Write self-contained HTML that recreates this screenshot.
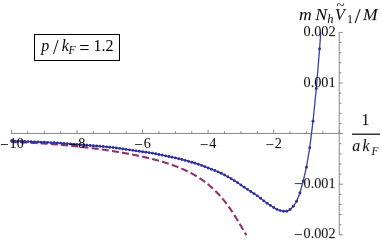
<!DOCTYPE html>
<html><head><meta charset="utf-8"><title>plot</title>
<style>
html,body{margin:0;padding:0;background:#fff;}
body{width:382px;height:242px;overflow:hidden;position:relative;font-family:"Liberation Serif",serif;}
svg{position:absolute;left:0;top:0;}
text{font-family:"Liberation Serif",serif;fill:#000;}
.t{font-size:14.5px;}
.i{font-style:italic;}
</style></head><body>
<svg width="382" height="242" viewBox="0 0 382 242">
<rect width="382" height="242" fill="#fff"/>
<g stroke="#727272" stroke-width="0.85" fill="none">
<path d="M11.1,133.45H339.25"/>
<path d="M339.25,32.1V235.2"/>
<path d="M11.45,133.45v-3.6M27.84,133.45v-2.2M44.23,133.45v-2.2M60.62,133.45v-2.2M77.01,133.45v-3.6M93.40,133.45v-2.2M109.79,133.45v-2.2M126.18,133.45v-2.2M142.57,133.45v-3.6M158.96,133.45v-2.2M175.35,133.45v-2.2M191.74,133.45v-2.2M208.13,133.45v-3.6M224.52,133.45v-2.2M240.91,133.45v-2.2M257.30,133.45v-2.2M273.69,133.45v-3.6M290.08,133.45v-2.2M306.47,133.45v-2.2M322.86,133.45v-2.2M339.25,133.45v-3.6M339.25,234.82h3.6M339.25,224.70h2.2M339.25,214.58h2.2M339.25,204.46h2.2M339.25,194.34h2.2M339.25,184.22h3.6M339.25,174.10h2.2M339.25,163.98h2.2M339.25,153.86h2.2M339.25,143.74h2.2M339.25,133.62h3.6M339.25,123.50h2.2M339.25,113.38h2.2M339.25,103.26h2.2M339.25,93.14h2.2M339.25,83.02h3.6M339.25,72.90h2.2M339.25,62.78h2.2M339.25,52.66h2.2M339.25,42.54h2.2M339.25,32.42h3.6"/>
</g>
<path d="M11.40,142.01 L11.65,142.02 L11.90,142.03 L12.15,142.03 L12.40,142.04 L12.65,142.05 L12.90,142.06 L13.15,142.06 L13.40,142.07 L13.65,142.08 L13.90,142.09 L14.15,142.09 L14.40,142.10 L14.65,142.11 L14.90,142.12 L15.15,142.13 L15.40,142.13 L15.65,142.14 L15.90,142.15 L16.15,142.16 L16.40,142.17 L16.65,142.18 L16.90,142.19 L17.15,142.19 L17.40,142.20 L17.65,142.21 L17.90,142.22 L18.15,142.23 L18.40,142.24 L18.65,142.25 L18.90,142.26 L19.15,142.27 L19.40,142.28 L19.65,142.29 L19.90,142.29 L20.15,142.30 L20.40,142.31 L20.65,142.32 L20.90,142.33 L21.15,142.34 L21.40,142.35 L21.65,142.36 L21.90,142.37 L22.15,142.38 L22.40,142.39 L22.65,142.41 L22.90,142.42 L23.15,142.43 L23.40,142.44 L23.65,142.45 L23.90,142.46 L24.15,142.47 L24.40,142.48 L24.65,142.49 L24.90,142.50 L25.15,142.51 L25.40,142.52 L25.65,142.54 L25.90,142.55 L26.15,142.56 L26.40,142.57 L26.65,142.58 L26.90,142.59 L27.15,142.60 L27.40,142.62 L27.65,142.63 L27.90,142.64 L28.15,142.65 L28.40,142.66 L28.65,142.68 L28.90,142.69 L29.15,142.70 L29.40,142.71 L29.65,142.73 L29.90,142.74 L30.15,142.75 L30.40,142.76 L30.65,142.78 L30.90,142.79 L31.15,142.80 L31.40,142.81 L31.65,142.83 L31.90,142.84 L32.15,142.85 L32.40,142.87 L32.65,142.88 L32.90,142.89 L33.15,142.91 L33.40,142.92 L33.65,142.93 L33.90,142.95 L34.15,142.96 L34.40,142.98 L34.65,142.99 L34.90,143.00 L35.15,143.02 L35.40,143.03 L35.65,143.05 L35.90,143.06 L36.15,143.07 L36.40,143.09 L36.65,143.10 L36.90,143.12 L37.15,143.13 L37.40,143.15 L37.65,143.16 L37.90,143.18 L38.15,143.19 L38.40,143.21 L38.65,143.22 L38.90,143.24 L39.15,143.25 L39.40,143.27 L39.65,143.28 L39.90,143.30 L40.15,143.31 L40.40,143.33 L40.65,143.34 L40.90,143.36 L41.15,143.37 L41.40,143.39 L41.65,143.41 L41.90,143.42 L42.15,143.44 L42.40,143.45 L42.65,143.47 L42.90,143.49 L43.15,143.50 L43.40,143.52 L43.65,143.54 L43.90,143.55 L44.15,143.57 L44.40,143.59 L44.65,143.60 L44.90,143.62 L45.15,143.64 L45.40,143.65 L45.65,143.67 L45.90,143.69 L46.15,143.70 L46.40,143.72 L46.65,143.74 L46.90,143.76 L47.15,143.77 L47.40,143.79 L47.65,143.81 L47.90,143.83 L48.15,143.84 L48.40,143.86 L48.65,143.88 L48.90,143.90 L49.15,143.92 L49.40,143.93 L49.65,143.95 L49.90,143.97 L50.15,143.99 L50.40,144.01 L50.65,144.03 L50.90,144.05 L51.15,144.06 L51.40,144.08 L51.65,144.10 L51.90,144.12 L52.15,144.14 L52.40,144.16 L52.65,144.18 L52.90,144.20 L53.15,144.22 L53.40,144.24 L53.65,144.25 L53.90,144.27 L54.15,144.29 L54.40,144.31 L54.65,144.33 L54.90,144.35 L55.15,144.37 L55.40,144.39 L55.65,144.41 L55.90,144.43 L56.15,144.45 L56.40,144.47 L56.65,144.49 L56.90,144.51 L57.15,144.53 L57.40,144.55 L57.65,144.57 L57.90,144.60 L58.15,144.62 L58.40,144.64 L58.65,144.66 L58.90,144.68 L59.15,144.70 L59.40,144.72 L59.65,144.74 L59.90,144.76 L60.15,144.78 L60.40,144.81 L60.65,144.83 L60.90,144.85 L61.15,144.87 L61.40,144.89 L61.65,144.91 L61.90,144.94 L62.15,144.96 L62.40,144.98 L62.65,145.00 L62.90,145.02 L63.15,145.05 L63.40,145.07 L63.65,145.09 L63.90,145.11 L64.15,145.14 L64.40,145.16 L64.65,145.18 L64.90,145.20 L65.15,145.23 L65.40,145.25 L65.65,145.27 L65.90,145.30 L66.15,145.32 L66.40,145.34 L66.65,145.37 L66.90,145.39 L67.15,145.41 L67.40,145.44 L67.65,145.46 L67.90,145.48 L68.15,145.51 L68.40,145.53 L68.65,145.56 L68.90,145.58 L69.15,145.60 L69.40,145.63 L69.65,145.65 L69.90,145.68 L70.15,145.70 L70.40,145.73 L70.65,145.75 L70.90,145.78 L71.15,145.80 L71.40,145.82 L71.65,145.85 L71.90,145.87 L72.15,145.90 L72.40,145.92 L72.65,145.95 L72.90,145.98 L73.15,146.00 L73.40,146.03 L73.65,146.05 L73.90,146.08 L74.15,146.10 L74.40,146.13 L74.65,146.15 L74.90,146.18 L75.15,146.21 L75.40,146.23 L75.65,146.26 L75.90,146.29 L76.15,146.31 L76.40,146.34 L76.65,146.36 L76.90,146.39 L77.15,146.42 L77.40,146.44 L77.65,146.47 L77.90,146.50 L78.15,146.53 L78.40,146.55 L78.65,146.58 L78.90,146.61 L79.15,146.63 L79.40,146.66 L79.65,146.69 L79.90,146.72 L80.15,146.74 L80.40,146.77 L80.65,146.80 L80.90,146.83 L81.15,146.86 L81.40,146.88 L81.65,146.91 L81.90,146.94 L82.15,146.97 L82.40,147.00 L82.65,147.03 L82.90,147.05 L83.15,147.08 L83.40,147.11 L83.65,147.14 L83.90,147.17 L84.15,147.20 L84.40,147.23 L84.65,147.26 L84.90,147.29 L85.15,147.31 L85.40,147.34 L85.65,147.37 L85.90,147.40 L86.15,147.43 L86.40,147.46 L86.65,147.49 L86.90,147.52 L87.15,147.55 L87.40,147.58 L87.65,147.61 L87.90,147.64 L88.15,147.67 L88.40,147.70 L88.65,147.73 L88.90,147.76 L89.15,147.80 L89.40,147.83 L89.65,147.86 L89.90,147.89 L90.15,147.92 L90.40,147.95 L90.65,147.98 L90.90,148.01 L91.15,148.04 L91.40,148.08 L91.65,148.11 L91.90,148.14 L92.15,148.17 L92.40,148.20 L92.65,148.23 L92.90,148.27 L93.15,148.30 L93.40,148.33 L93.65,148.36 L93.90,148.40 L94.15,148.43 L94.40,148.46 L94.65,148.49 L94.90,148.53 L95.15,148.56 L95.40,148.59 L95.65,148.62 L95.90,148.66 L96.15,148.69 L96.40,148.72 L96.65,148.76 L96.90,148.79 L97.15,148.82 L97.40,148.86 L97.65,148.89 L97.90,148.92 L98.15,148.96 L98.40,148.99 L98.65,149.03 L98.90,149.06 L99.15,149.10 L99.40,149.13 L99.65,149.16 L99.90,149.20 L100.15,149.23 L100.40,149.27 L100.65,149.30 L100.90,149.34 L101.15,149.37 L101.40,149.41 L101.65,149.44 L101.90,149.48 L102.15,149.51 L102.40,149.55 L102.65,149.58 L102.90,149.62 L103.15,149.66 L103.40,149.69 L103.65,149.73 L103.90,149.76 L104.15,149.80 L104.40,149.84 L104.65,149.87 L104.90,149.91 L105.15,149.95 L105.40,149.98 L105.65,150.02 L105.90,150.06 L106.15,150.09 L106.40,150.13 L106.65,150.17 L106.90,150.20 L107.15,150.24 L107.40,150.28 L107.65,150.32 L107.90,150.35 L108.15,150.39 L108.40,150.43 L108.65,150.47 L108.90,150.50 L109.15,150.54 L109.40,150.58 L109.65,150.62 L109.90,150.66 L110.15,150.70 L110.40,150.73 L110.65,150.77 L110.90,150.81 L111.15,150.85 L111.40,150.89 L111.65,150.93 L111.90,150.97 L112.15,151.01 L112.40,151.05 L112.65,151.09 L112.90,151.13 L113.15,151.17 L113.40,151.21 L113.65,151.25 L113.90,151.29 L114.15,151.33 L114.40,151.37 L114.65,151.41 L114.90,151.45 L115.15,151.49 L115.40,151.53 L115.65,151.57 L115.90,151.61 L116.15,151.65 L116.40,151.69 L116.65,151.73 L116.90,151.77 L117.15,151.82 L117.40,151.86 L117.65,151.90 L117.90,151.94 L118.15,151.98 L118.40,152.02 L118.65,152.07 L118.90,152.11 L119.15,152.15 L119.40,152.19 L119.65,152.24 L119.90,152.28 L120.15,152.32 L120.40,152.36 L120.65,152.41 L120.90,152.45 L121.15,152.49 L121.40,152.54 L121.65,152.58 L121.90,152.62 L122.15,152.67 L122.40,152.71 L122.65,152.76 L122.90,152.80 L123.15,152.84 L123.40,152.89 L123.65,152.93 L123.90,152.98 L124.15,153.02 L124.40,153.07 L124.65,153.11 L124.90,153.16 L125.15,153.20 L125.40,153.25 L125.65,153.29 L125.90,153.34 L126.15,153.38 L126.40,153.43 L126.65,153.48 L126.90,153.52 L127.15,153.57 L127.40,153.61 L127.65,153.66 L127.90,153.71 L128.15,153.75 L128.40,153.80 L128.65,153.85 L128.90,153.90 L129.15,153.94 L129.40,153.99 L129.65,154.04 L129.90,154.08 L130.15,154.13 L130.40,154.18 L130.65,154.23 L130.90,154.28 L131.15,154.33 L131.40,154.37 L131.65,154.42 L131.90,154.47 L132.15,154.52 L132.40,154.57 L132.65,154.62 L132.90,154.67 L133.15,154.72 L133.40,154.77 L133.65,154.82 L133.90,154.87 L134.15,154.92 L134.40,154.97 L134.65,155.02 L134.90,155.07 L135.15,155.12 L135.40,155.17 L135.65,155.22 L135.90,155.27 L136.15,155.32 L136.40,155.37 L136.65,155.43 L136.90,155.48 L137.15,155.53 L137.40,155.58 L137.65,155.63 L137.90,155.69 L138.15,155.74 L138.40,155.79 L138.65,155.84 L138.90,155.90 L139.15,155.95 L139.40,156.00 L139.65,156.06 L139.90,156.11 L140.15,156.16 L140.40,156.22 L140.65,156.27 L140.90,156.33 L141.15,156.38 L141.40,156.44 L141.65,156.49 L141.90,156.55 L142.15,156.60 L142.40,156.66 L142.65,156.71 L142.90,156.77 L143.15,156.82 L143.40,156.88 L143.65,156.94 L143.90,156.99 L144.15,157.05 L144.40,157.11 L144.65,157.16 L144.90,157.22 L145.15,157.28 L145.40,157.33 L145.65,157.39 L145.90,157.45 L146.15,157.51 L146.40,157.57 L146.65,157.63 L146.90,157.68 L147.15,157.74 L147.40,157.80 L147.65,157.86 L147.90,157.92 L148.15,157.98 L148.40,158.04 L148.65,158.10 L148.90,158.16 L149.15,158.22 L149.40,158.28 L149.65,158.34 L149.90,158.41 L150.15,158.47 L150.40,158.53 L150.65,158.59 L150.90,158.65 L151.15,158.72 L151.40,158.78 L151.65,158.84 L151.90,158.90 L152.15,158.97 L152.40,159.03 L152.65,159.09 L152.90,159.16 L153.15,159.22 L153.40,159.29 L153.65,159.35 L153.90,159.42 L154.15,159.48 L154.40,159.55 L154.65,159.61 L154.90,159.68 L155.15,159.74 L155.40,159.81 L155.65,159.88 L155.90,159.94 L156.15,160.01 L156.40,160.08 L156.65,160.15 L156.90,160.21 L157.15,160.28 L157.40,160.35 L157.65,160.42 L157.90,160.49 L158.15,160.56 L158.40,160.63 L158.65,160.70 L158.90,160.77 L159.15,160.84 L159.40,160.91 L159.65,160.98 L159.90,161.05 L160.15,161.12 L160.40,161.19 L160.65,161.27 L160.90,161.34 L161.15,161.41 L161.40,161.48 L161.65,161.56 L161.90,161.63 L162.15,161.70 L162.40,161.78 L162.65,161.85 L162.90,161.93 L163.15,162.00 L163.40,162.08 L163.65,162.15 L163.90,162.23 L164.15,162.31 L164.40,162.38 L164.65,162.46 L164.90,162.54 L165.15,162.62 L165.40,162.69 L165.65,162.77 L165.90,162.85 L166.15,162.93 L166.40,163.01 L166.65,163.09 L166.90,163.17 L167.15,163.25 L167.40,163.33 L167.65,163.41 L167.90,163.49 L168.15,163.58 L168.40,163.66 L168.65,163.74 L168.90,163.82 L169.15,163.91 L169.40,163.99 L169.65,164.07 L169.90,164.16 L170.15,164.24 L170.40,164.33 L170.65,164.42 L170.90,164.50 L171.15,164.59 L171.40,164.68 L171.65,164.76 L171.90,164.85 L172.15,164.94 L172.40,165.03 L172.65,165.12 L172.90,165.21 L173.15,165.30 L173.40,165.39 L173.65,165.48 L173.90,165.57 L174.15,165.66 L174.40,165.75 L174.65,165.84 L174.90,165.94 L175.15,166.03 L175.40,166.12 L175.65,166.22 L175.90,166.31 L176.15,166.41 L176.40,166.50 L176.65,166.60 L176.90,166.70 L177.15,166.80 L177.40,166.89 L177.65,166.99 L177.90,167.09 L178.15,167.19 L178.40,167.29 L178.65,167.39 L178.90,167.49 L179.15,167.59 L179.40,167.69 L179.65,167.80 L179.90,167.90 L180.15,168.00 L180.40,168.11 L180.65,168.21 L180.90,168.32 L181.15,168.42 L181.40,168.53 L181.65,168.63 L181.90,168.74 L182.15,168.85 L182.40,168.96 L182.65,169.07 L182.90,169.18 L183.15,169.29 L183.40,169.40 L183.65,169.51 L183.90,169.62 L184.15,169.73 L184.40,169.85 L184.65,169.96 L184.90,170.08 L185.15,170.19 L185.40,170.31 L185.65,170.42 L185.90,170.54 L186.15,170.66 L186.40,170.78 L186.65,170.90 L186.90,171.02 L187.15,171.14 L187.40,171.26 L187.65,171.38 L187.90,171.50 L188.15,171.63 L188.40,171.75 L188.65,171.87 L188.90,172.00 L189.15,172.13 L189.40,172.25 L189.65,172.38 L189.90,172.51 L190.15,172.64 L190.40,172.77 L190.65,172.90 L190.90,173.03 L191.15,173.16 L191.40,173.29 L191.65,173.43 L191.90,173.56 L192.15,173.70 L192.40,173.83 L192.65,173.97 L192.90,174.11 L193.15,174.25 L193.40,174.39 L193.65,174.53 L193.90,174.67 L194.15,174.81 L194.40,174.95 L194.65,175.10 L194.90,175.24 L195.15,175.39 L195.40,175.53 L195.65,175.68 L195.90,175.83 L196.15,175.98 L196.40,176.13 L196.65,176.28 L196.90,176.43 L197.15,176.58 L197.40,176.74 L197.65,176.89 L197.90,177.05 L198.15,177.21 L198.40,177.36 L198.65,177.52 L198.90,177.68 L199.15,177.84 L199.40,178.00 L199.65,178.17 L199.90,178.33 L200.15,178.50 L200.40,178.66 L200.65,178.83 L200.90,179.00 L201.15,179.17 L201.40,179.34 L201.65,179.51 L201.90,179.68 L202.15,179.85 L202.40,180.03 L202.65,180.20 L202.90,180.38 L203.15,180.56 L203.40,180.74 L203.65,180.92 L203.90,181.10 L204.15,181.28 L204.40,181.47 L204.65,181.65 L204.90,181.84 L205.15,182.03 L205.40,182.22 L205.65,182.41 L205.90,182.60 L206.15,182.79 L206.40,182.98 L206.65,183.18 L206.90,183.38 L207.15,183.57 L207.40,183.77 L207.65,183.97 L207.90,184.18 L208.15,184.38 L208.40,184.58 L208.65,184.79 L208.90,185.00 L209.15,185.21 L209.40,185.42 L209.65,185.63 L209.90,185.84 L210.15,186.06 L210.40,186.27 L210.65,186.49 L210.90,186.71 L211.15,186.93 L211.40,187.15 L211.65,187.37 L211.90,187.60 L212.15,187.82 L212.40,188.05 L212.65,188.28 L212.90,188.51 L213.15,188.75 L213.40,188.98 L213.65,189.22 L213.90,189.45 L214.15,189.69 L214.40,189.93 L214.65,190.17 L214.90,190.42 L215.15,190.66 L215.40,190.91 L215.65,191.16 L215.90,191.41 L216.15,191.66 L216.40,191.92 L216.65,192.17 L216.90,192.43 L217.15,192.69 L217.40,192.95 L217.65,193.21 L217.90,193.48 L218.15,193.74 L218.40,194.01 L218.65,194.28 L218.90,194.55 L219.15,194.82 L219.40,195.10 L219.65,195.38 L219.90,195.66 L220.15,195.94 L220.40,196.22 L220.65,196.50 L220.90,196.79 L221.15,197.08 L221.40,197.37 L221.65,197.66 L221.90,197.95 L222.15,198.25 L222.40,198.55 L222.65,198.85 L222.90,199.15 L223.15,199.45 L223.40,199.76 L223.65,200.07 L223.90,200.38 L224.15,200.69 L224.40,201.00 L224.65,201.32 L224.90,201.63 L225.15,201.95 L225.40,202.27 L225.65,202.60 L225.90,202.92 L226.15,203.25 L226.40,203.58 L226.65,203.91 L226.90,204.25 L227.15,204.58 L227.40,204.92 L227.65,205.26 L227.90,205.60 L228.15,205.94 L228.40,206.29 L228.65,206.64 L228.90,206.99 L229.15,207.34 L229.40,207.69 L229.65,208.05 L229.90,208.41 L230.15,208.77 L230.40,209.13 L230.65,209.49 L230.90,209.86 L231.15,210.22 L231.40,210.59 L231.65,210.97 L231.90,211.34 L232.15,211.71 L232.40,212.09 L232.65,212.47 L232.90,212.85 L233.15,213.23 L233.40,213.62 L233.65,214.00 L233.90,214.39 L234.15,214.78 L234.40,215.17 L234.65,215.57 L234.90,215.96 L235.15,216.36 L235.40,216.76 L235.65,217.16 L235.90,217.56 L236.15,217.96 L236.40,218.37 L236.65,218.77 L236.90,219.18 L237.15,219.59 L237.40,220.00 L237.65,220.41 L237.90,220.83 L238.15,221.24 L238.40,221.66 L238.65,222.07 L238.90,222.49 L239.15,222.91 L239.40,223.33 L239.65,223.75 L239.90,224.17 L240.15,224.60 L240.40,225.02 L240.65,225.44 L240.90,225.87 L241.15,226.29 L241.40,226.72 L241.65,227.15 L241.90,227.57 L242.15,228.00 L242.40,228.43 L242.65,228.86 L242.90,229.28 L243.15,229.71 L243.40,230.14 L243.65,230.57 L243.90,230.99 L244.15,231.42 L244.40,231.85 L244.65,232.27 L244.90,232.70 L245.15,233.12 L245.40,233.54 L245.65,233.96 L245.90,234.39 L246.15,234.81 L246.40,235.22" fill="none" stroke="#92336F" stroke-width="2.1" stroke-dasharray="7 3.25" stroke-dashoffset="1.5"/>
<path d="M11.45,141.00 L14.73,141.12 L18.01,141.24 L21.28,141.36 L24.56,141.49 L27.84,141.62 L31.12,141.75 L34.40,141.88 L37.67,142.01 L40.95,142.14 L44.23,142.28 L47.51,142.42 L50.79,142.58 L54.06,142.75 L57.34,142.94 L60.62,143.16 L63.90,143.41 L67.18,143.68 L70.45,143.96 L73.73,144.23 L77.01,144.50 L80.29,144.76 L83.57,145.01 L86.84,145.25 L90.12,145.50 L93.40,145.75 L96.68,146.01 L99.96,146.28 L103.23,146.57 L106.51,146.87 L109.79,147.20 L113.07,147.57 L116.35,147.98 L119.62,148.42 L122.90,148.89 L126.18,149.38 L129.46,149.87 L132.74,150.37 L136.01,150.85 L139.29,151.31 L142.57,151.74 L145.85,152.15 L149.13,152.60 L152.40,153.16 L155.68,153.81 L158.96,154.50 L162.24,155.17 L165.52,155.83 L168.79,156.51 L172.07,157.20 L175.35,157.92 L178.63,158.68 L181.91,159.50 L185.18,160.39 L188.46,161.32 L191.74,162.27 L195.02,163.23 L198.30,164.25 L201.57,165.38 L204.85,166.63 L208.13,167.95 L211.41,169.24 L214.69,170.51 L217.96,171.83 L221.24,173.32 L224.52,174.98 L227.80,176.78 L231.08,178.67 L234.35,180.67 L237.63,182.78 L240.91,184.96 L244.19,187.16 L247.47,189.37 L250.74,191.54 L254.02,193.66 L257.30,195.83 L260.58,198.21 L263.86,200.90 L267.13,203.30 L270.41,205.40 L273.69,207.50 L276.97,209.40 L280.25,210.60 L283.52,211.20 L286.80,211.20 L290.08,209.50 L293.36,206.20 L296.64,201.30 L299.91,193.00 L303.19,181.10 L306.47,167.20 L309.75,147.70 L313.03,121.20 L316.30,88.50 L319.58,49.00 L320.76,32.40" fill="none" stroke="#3D3DA2" stroke-width="1.3" stroke-linejoin="round"/>
<g fill="#2F2F9A"><circle cx="11.45" cy="141.00" r="1.45"/><circle cx="14.73" cy="141.12" r="1.45"/><circle cx="18.01" cy="141.24" r="1.45"/><circle cx="21.28" cy="141.36" r="1.45"/><circle cx="24.56" cy="141.49" r="1.45"/><circle cx="27.84" cy="141.62" r="1.45"/><circle cx="31.12" cy="141.75" r="1.45"/><circle cx="34.40" cy="141.88" r="1.45"/><circle cx="37.67" cy="142.01" r="1.45"/><circle cx="40.95" cy="142.14" r="1.45"/><circle cx="44.23" cy="142.28" r="1.45"/><circle cx="47.51" cy="142.42" r="1.45"/><circle cx="50.79" cy="142.58" r="1.45"/><circle cx="54.06" cy="142.75" r="1.45"/><circle cx="57.34" cy="142.94" r="1.45"/><circle cx="60.62" cy="143.16" r="1.45"/><circle cx="63.90" cy="143.41" r="1.45"/><circle cx="67.18" cy="143.68" r="1.45"/><circle cx="70.45" cy="143.96" r="1.45"/><circle cx="73.73" cy="144.23" r="1.45"/><circle cx="77.01" cy="144.50" r="1.45"/><circle cx="80.29" cy="144.76" r="1.45"/><circle cx="83.57" cy="145.01" r="1.45"/><circle cx="86.84" cy="145.25" r="1.45"/><circle cx="90.12" cy="145.50" r="1.45"/><circle cx="93.40" cy="145.75" r="1.45"/><circle cx="96.68" cy="146.01" r="1.45"/><circle cx="99.96" cy="146.28" r="1.45"/><circle cx="103.23" cy="146.57" r="1.45"/><circle cx="106.51" cy="146.87" r="1.45"/><circle cx="109.79" cy="147.20" r="1.45"/><circle cx="113.07" cy="147.57" r="1.45"/><circle cx="116.35" cy="147.98" r="1.45"/><circle cx="119.62" cy="148.42" r="1.45"/><circle cx="122.90" cy="148.89" r="1.45"/><circle cx="126.18" cy="149.38" r="1.45"/><circle cx="129.46" cy="149.87" r="1.45"/><circle cx="132.74" cy="150.37" r="1.45"/><circle cx="136.01" cy="150.85" r="1.45"/><circle cx="139.29" cy="151.31" r="1.45"/><circle cx="142.57" cy="151.74" r="1.45"/><circle cx="145.85" cy="152.15" r="1.45"/><circle cx="149.13" cy="152.60" r="1.45"/><circle cx="152.40" cy="153.16" r="1.45"/><circle cx="155.68" cy="153.81" r="1.45"/><circle cx="158.96" cy="154.50" r="1.45"/><circle cx="162.24" cy="155.17" r="1.45"/><circle cx="165.52" cy="155.83" r="1.45"/><circle cx="168.79" cy="156.51" r="1.45"/><circle cx="172.07" cy="157.20" r="1.45"/><circle cx="175.35" cy="157.92" r="1.45"/><circle cx="178.63" cy="158.68" r="1.45"/><circle cx="181.91" cy="159.50" r="1.45"/><circle cx="185.18" cy="160.39" r="1.45"/><circle cx="188.46" cy="161.32" r="1.45"/><circle cx="191.74" cy="162.27" r="1.45"/><circle cx="195.02" cy="163.23" r="1.45"/><circle cx="198.30" cy="164.25" r="1.45"/><circle cx="201.57" cy="165.38" r="1.45"/><circle cx="204.85" cy="166.63" r="1.45"/><circle cx="208.13" cy="167.95" r="1.45"/><circle cx="211.41" cy="169.24" r="1.45"/><circle cx="214.69" cy="170.51" r="1.45"/><circle cx="217.96" cy="171.83" r="1.45"/><circle cx="221.24" cy="173.32" r="1.45"/><circle cx="224.52" cy="174.98" r="1.45"/><circle cx="227.80" cy="176.78" r="1.45"/><circle cx="231.08" cy="178.67" r="1.45"/><circle cx="234.35" cy="180.67" r="1.45"/><circle cx="237.63" cy="182.78" r="1.45"/><circle cx="240.91" cy="184.96" r="1.45"/><circle cx="244.19" cy="187.16" r="1.45"/><circle cx="247.47" cy="189.37" r="1.45"/><circle cx="250.74" cy="191.54" r="1.45"/><circle cx="254.02" cy="193.66" r="1.45"/><circle cx="257.30" cy="195.83" r="1.45"/><circle cx="260.58" cy="198.21" r="1.45"/><circle cx="263.86" cy="200.90" r="1.45"/><circle cx="267.13" cy="203.30" r="1.45"/><circle cx="270.41" cy="205.40" r="1.45"/><circle cx="273.69" cy="207.50" r="1.45"/><circle cx="276.97" cy="209.40" r="1.45"/><circle cx="280.25" cy="210.60" r="1.45"/><circle cx="283.52" cy="211.20" r="1.45"/><circle cx="286.80" cy="211.20" r="1.45"/><circle cx="290.08" cy="209.50" r="1.45"/><circle cx="293.36" cy="206.20" r="1.45"/><circle cx="296.64" cy="201.30" r="1.45"/><circle cx="299.91" cy="193.00" r="1.45"/><circle cx="303.19" cy="181.10" r="1.45"/><circle cx="306.47" cy="167.20" r="1.45"/><circle cx="309.75" cy="147.70" r="1.45"/><circle cx="313.03" cy="121.20" r="1.45"/><circle cx="316.30" cy="88.50" r="1.45"/><circle cx="319.58" cy="49.00" r="1.45"/></g>
<g style="filter:grayscale(1)" transform="rotate(0.02)"><g class="t"><text transform="translate(11.90,148.3) scale(0.985,1.04)" text-anchor="middle"><tspan dy="1.4" font-size="15.5">−</tspan><tspan dy="-1.4" dx="0.9">10</tspan></text><text transform="translate(77.01,148.3) scale(0.985,1.04)" text-anchor="middle"><tspan dy="1.4" font-size="15.5">−</tspan><tspan dy="-1.4" dx="0.9">8</tspan></text><text transform="translate(142.57,148.3) scale(0.985,1.04)" text-anchor="middle"><tspan dy="1.4" font-size="15.5">−</tspan><tspan dy="-1.4" dx="0.9">6</tspan></text><text transform="translate(208.13,148.3) scale(0.985,1.04)" text-anchor="middle"><tspan dy="1.4" font-size="15.5">−</tspan><tspan dy="-1.4" dx="0.9">4</tspan></text><text transform="translate(273.69,148.3) scale(0.985,1.04)" text-anchor="middle"><tspan dy="1.4" font-size="15.5">−</tspan><tspan dy="-1.4" dx="0.9">2</tspan></text><text transform="translate(335.6,36.30) scale(0.985,1.04)" text-anchor="end">0.002</text><text transform="translate(335.6,86.82) scale(0.985,1.04)" text-anchor="end">0.001</text><text transform="translate(335.6,187.88) scale(0.985,1.04)" text-anchor="end"><tspan dy="1.4" font-size="15.5">−</tspan><tspan dy="-1.4" dx="0.9">0.001</tspan></text><text transform="translate(335.6,238.40) scale(0.985,1.04)" text-anchor="end"><tspan dy="1.4" font-size="15.5">−</tspan><tspan dy="-1.4" dx="0.9">0.002</tspan></text></g></g>
<rect x="34.5" y="34.5" width="85" height="26" fill="#fff" stroke="#000" stroke-width="1"/>
<rect x="352" y="133.55" width="27.9" height="1.35" fill="#1c1c1c"/>
<g style="filter:grayscale(1)" transform="rotate(0.02)" font-size="16">
<text x="41.3" y="51.2" class="i">p</text>
<text x="53.0" y="53.5" font-size="20">/</text>
<text x="61.8" y="51.2" class="i">k</text>
<text x="68.6" y="54.3" font-size="11.5" class="i">F</text>
<text x="79.3" y="53.9" font-size="18">=</text>
<text x="93.6" y="51.2">1.2</text>
<text transform="translate(298.9,19.8) scale(1.1,1)" class="i">m</text>
<text transform="translate(315.3,19.9) scale(1.12,1.05)" class="i">N</text>
<text x="327.2" y="22.9" font-size="12.5" class="i">h</text>
<text x="335.0" y="19.9" class="i">V</text>
<text x="336.4" y="10.0" font-size="15">~</text>
<text x="347.0" y="23.0" font-size="12">1</text>
<text x="354.5" y="22.8" font-size="22">/</text>
<text transform="translate(362.9,19.9) scale(1.1,1.06)" class="i">M</text>
<text x="361.5" y="125.2">1</text>
<text x="352.3" y="151.3" class="i">a</text>
<text x="362.6" y="151.3" class="i">k</text>
<text x="371.4" y="154.9" font-size="11.5" class="i">F</text>
</g>
</svg>
</body></html>
